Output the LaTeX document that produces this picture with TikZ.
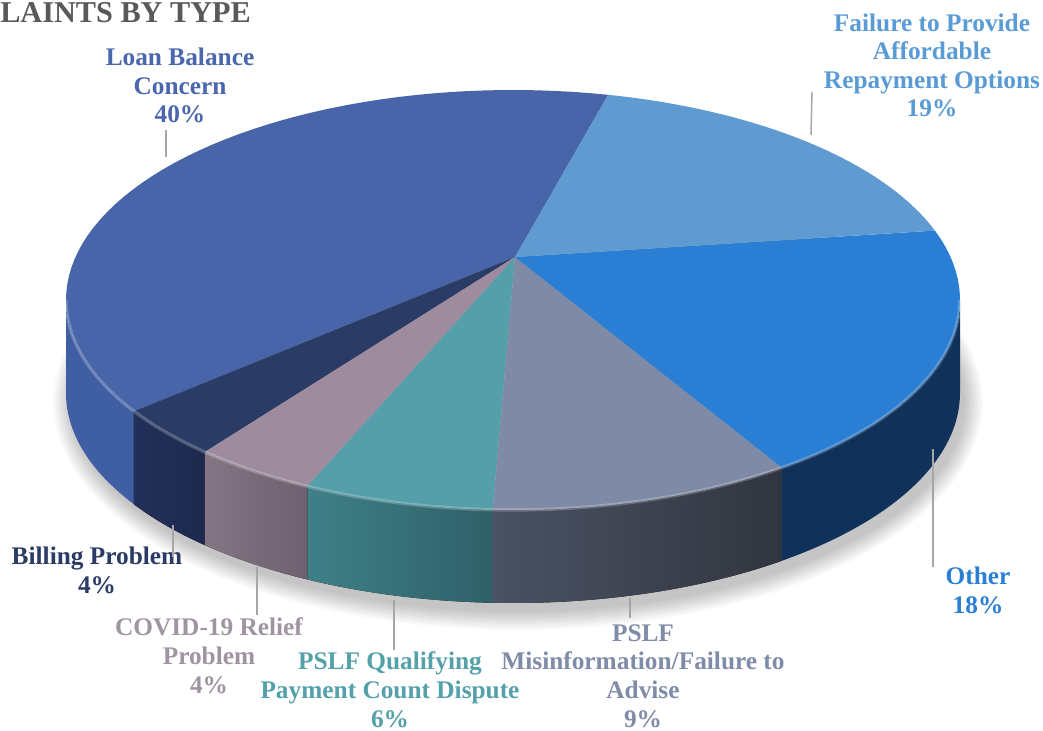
\documentclass[tikz,border=0pt]{standalone}
\usepackage{fontspec}
\setmainfont{Liberation Serif}
\usetikzlibrary{positioning}
\definecolor{loanc}{HTML}{4765A8}
\definecolor{loanside}{HTML}{3F5EA3}
\definecolor{loantxt}{HTML}{4A66AC}
\definecolor{failc}{HTML}{5F9BD0}
\definecolor{failtxt}{HTML}{5B9BD5}
\definecolor{otherc}{HTML}{2A7FD4}
\definecolor{otherside}{HTML}{10325A}
\definecolor{misc}{HTML}{7F8BA6}
\definecolor{misside}{HTML}{4A5263}
\definecolor{missideb}{HTML}{31353F}
\definecolor{mistxt}{HTML}{7F8CA8}
\definecolor{qualc}{HTML}{549FA9}
\definecolor{qualside}{HTML}{3F8088}
\definecolor{qualsideb}{HTML}{2F6068}
\definecolor{qualtxt}{HTML}{55A1AA}
\definecolor{covc}{HTML}{9E8C9E}
\definecolor{covside}{HTML}{857585}
\definecolor{covsideb}{HTML}{6E606F}
\definecolor{covtxt}{HTML}{A094A2}
\definecolor{billc}{HTML}{2A3B66}
\definecolor{billside}{HTML}{22305A}
\definecolor{billtxt}{HTML}{2B3B66}
\definecolor{leadc}{HTML}{A6A6A6}
\definecolor{titlec}{HTML}{595959}
\tikzset{
  lbl/.style={anchor=base,inner sep=0pt,align=center,
    font=\fontsize{19}{21.4}\selectfont\bfseries},
  leader/.style={leadc,line width=1.1pt},
  rim/.style={domain=#1,samples=60},
  % rim of the pie: ex/ey top edge, ey+93 bottom edge
  declare function={ex(\t)=513+447*cos(\t); ey(\t)=300-210*sin(\t);},
}
\begin{document}
\begin{tikzpicture}[x=0.75pt,y=-0.75pt]
\useasboundingbox[fill=white] (0,0) rectangle (1043,731);
\node[anchor=base west,inner sep=0pt,text=titlec,
  font=\fontsize{22.7}{26}\selectfont\bfseries] (title) at (0,23) {LAINTS BY TYPE};

% soft shadow
\foreach \g in {0,2,...,18} {
  \fill[black,opacity=0.022] plot[domain=0:360,samples=90]
    ({518+(447+\g)*cos(\x)},{402-(210+\g)*sin(\x)}) -- cycle;
}

% sides
\fill[loanside] plot[rim=180:212] ({ex(\x)},{ey(\x)}) -- plot[rim=212:180] ({ex(\x)},{ey(\x)+93}) -- cycle;
\fill[left color=billside,right color=billside!85!black] plot[rim=-148:-133.6] ({ex(\x)},{ey(\x)}) -- plot[rim=-133.6:-148] ({ex(\x)},{ey(\x)+93}) -- cycle;
\fill[left color=covside,right color=covsideb] plot[rim=-133.6:-117.4] ({ex(\x)},{ey(\x)}) -- plot[rim=-117.4:-133.6] ({ex(\x)},{ey(\x)+93}) -- cycle;
\fill[left color=qualside,right color=qualsideb] plot[rim=-117.4:-92.6] ({ex(\x)},{ey(\x)}) -- plot[rim=-92.6:-117.4] ({ex(\x)},{ey(\x)+93}) -- cycle;
\fill[left color=misside,right color=missideb] plot[rim=-92.6:-53] ({ex(\x)},{ey(\x)}) -- plot[rim=-53:-92.6] ({ex(\x)},{ey(\x)+93}) -- cycle;
\fill[otherside] plot[rim=-53:0] ({ex(\x)},{ey(\x)}) -- plot[rim=0:-53] ({ex(\x)},{ey(\x)+93}) -- cycle;

% top face
\coordinate (apex) at (515,257);
\fill[loanc] (apex) -- plot[rim=77.7:212] ({ex(\x)},{ey(\x)}) -- cycle;
\fill[billc] (apex) -- plot[rim=-148:-133.6] ({ex(\x)},{ey(\x)}) -- cycle;
\fill[covc] (apex) -- plot[rim=-133.6:-117.4] ({ex(\x)},{ey(\x)}) -- cycle;
\fill[qualc] (apex) -- plot[rim=-117.4:-92.6] ({ex(\x)},{ey(\x)}) -- cycle;
\fill[misc] (apex) -- plot[rim=-92.6:-53] ({ex(\x)},{ey(\x)}) -- cycle;
\fill[otherc] (apex) -- plot[rim=-53:19.3] ({ex(\x)},{ey(\x)}) -- cycle;
\fill[failc] (apex) -- plot[rim=19.3:77.7] ({ex(\x)},{ey(\x)}) -- cycle;
\draw[white,opacity=0.22,line width=2.5pt] plot[rim=-180:0] ({ex(\x)},{ey(\x)});

% labels
\node[lbl,text=loantxt] (loan) at (180,123) {Loan Balance\\Concern\\40\%};
\node[lbl,text=failtxt] (fail) at (932,117) {Failure to Provide\\Affordable\\Repayment Options\\19\%};
\node[lbl,text=otherc] (other) at (978,613) {Other\\18\%};
\node[lbl,text=mistxt] (mis) at (643,727) {PSLF\\Misinformation/Failure to\\Advise\\9\%};
\node[lbl,text=qualtxt] (qual) at (390,727) {PSLF Qualifying\\Payment Count Dispute\\6\%};
\node[lbl,text=covtxt] (cov) at (209,693) {COVID-19 Relief\\Problem\\4\%};
\node[lbl,text=billtxt] (bill) at (97,593) {Billing Problem\\4\%};

% leader lines
\coordinate (loanA) at (166,157);  \coordinate (loanB) at (166,130);
\coordinate (failA) at (811,135);  \coordinate (failB) at (812,92);
\coordinate (otherA) at (933,449); \coordinate (otherB) at (933,567);
\coordinate (misA) at (630,598);   \coordinate (misB) at (630,618);
\coordinate (qualA) at (394,600);  \coordinate (qualB) at (394,650);
\coordinate (covA) at (257,567);   \coordinate (covB) at (257,615);
\coordinate (billA) at (173,525);  \coordinate (billB) at (173,557);
\foreach \n in {loan,fail,other,mis,qual,cov,bill}
  \draw[leader] (\n A) -- (\n B);
\end{tikzpicture}
\end{document}
